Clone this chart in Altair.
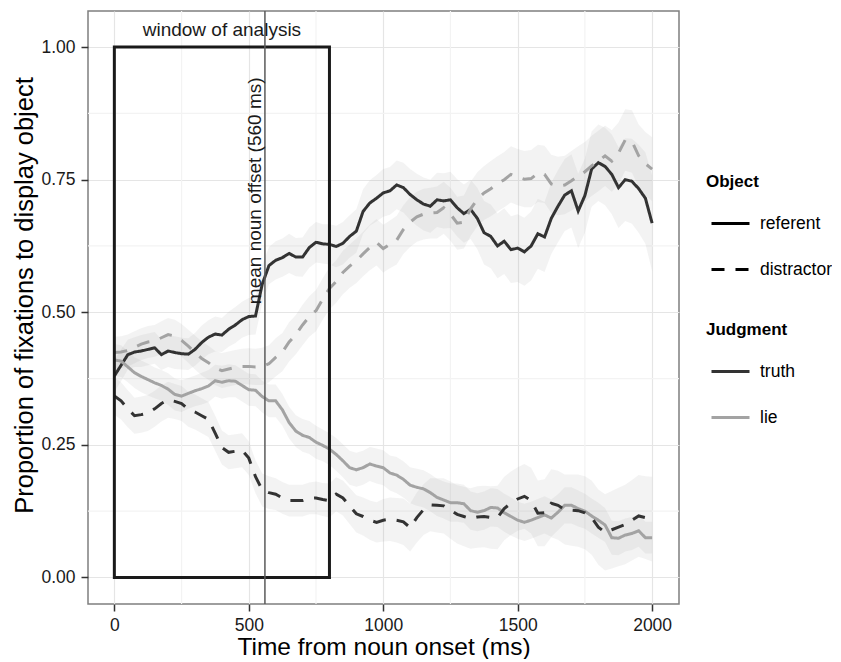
import altair as alt
import pandas as pd

# ---------------- data ----------------
time_ms = list(range(0, 2001, 25))

truth_referent = [
    0.380, 0.400, 0.420, 0.425, 0.427, 0.430, 0.433, 0.420, 0.427, 0.424,
    0.422, 0.421, 0.430, 0.443, 0.453, 0.459, 0.457, 0.468, 0.476, 0.486,
    0.492, 0.493, 0.553, 0.588, 0.598, 0.603, 0.611, 0.604, 0.604, 0.622,
    0.632, 0.629, 0.628, 0.624, 0.630, 0.643, 0.653, 0.690, 0.706, 0.715,
    0.725, 0.729, 0.740, 0.735, 0.722, 0.712, 0.704, 0.700, 0.712, 0.710,
    0.712, 0.697, 0.686, 0.694, 0.677, 0.650, 0.643, 0.625, 0.634, 0.618,
    0.621, 0.614, 0.625, 0.648, 0.642, 0.677, 0.700, 0.721, 0.729, 0.691,
    0.720, 0.770, 0.782, 0.775, 0.760, 0.735, 0.750, 0.747, 0.733, 0.715,
    0.668,
]
lie_referent = [
    0.410, 0.408, 0.397, 0.386, 0.379, 0.373, 0.367, 0.362, 0.355, 0.345,
    0.342, 0.347, 0.352, 0.356, 0.361, 0.371, 0.368, 0.371, 0.370, 0.362,
    0.354, 0.353, 0.341, 0.333, 0.333, 0.316, 0.292, 0.276, 0.268, 0.264,
    0.255, 0.249, 0.242, 0.232, 0.220, 0.207, 0.203, 0.207, 0.214, 0.210,
    0.207, 0.197, 0.193, 0.185, 0.174, 0.170, 0.167, 0.160, 0.151, 0.146,
    0.141, 0.141, 0.139, 0.126, 0.123, 0.126, 0.132, 0.131, 0.122, 0.115,
    0.108, 0.104, 0.108, 0.113, 0.118, 0.112, 0.123, 0.136, 0.136, 0.130,
    0.125, 0.116, 0.108, 0.099, 0.075, 0.074, 0.080, 0.083, 0.088, 0.075,
    0.075,
]
truth_distractor = [
    0.342, 0.333, 0.318, 0.305, 0.307, 0.310, 0.318, 0.328, 0.335, 0.332,
    0.328, 0.317, 0.312, 0.305, 0.298, 0.272, 0.245, 0.236, 0.238, 0.240,
    0.225, 0.190, 0.165, 0.160, 0.157, 0.150, 0.145, 0.145, 0.145, 0.149,
    0.150, 0.147, 0.145, 0.157, 0.150, 0.135, 0.120, 0.115, 0.108, 0.104,
    0.108, 0.110, 0.108, 0.105, 0.094, 0.113, 0.128, 0.137, 0.136, 0.135,
    0.127, 0.119, 0.115, 0.111, 0.114, 0.115, 0.113, 0.113, 0.130, 0.140,
    0.148, 0.153, 0.145, 0.121, 0.122, 0.140, 0.136, 0.128, 0.127, 0.126,
    0.122, 0.113, 0.095, 0.085, 0.090, 0.095, 0.100, 0.108, 0.116, 0.113,
    0.110,
]
lie_distractor = [
    0.424, 0.425, 0.428, 0.434, 0.440, 0.444, 0.446, 0.452, 0.458, 0.455,
    0.447, 0.436, 0.424, 0.413, 0.405, 0.395, 0.390, 0.393, 0.396, 0.398,
    0.398, 0.397, 0.398, 0.403, 0.415, 0.425, 0.444, 0.458, 0.476, 0.492,
    0.503, 0.525, 0.545, 0.558, 0.575, 0.587, 0.597, 0.610, 0.622, 0.632,
    0.620, 0.628, 0.636, 0.656, 0.670, 0.680, 0.685, 0.687, 0.688, 0.697,
    0.685, 0.668, 0.670, 0.695, 0.713, 0.725, 0.733, 0.742, 0.750, 0.760,
    0.755, 0.751, 0.752, 0.762, 0.760, 0.742, 0.738, 0.740, 0.748, 0.757,
    0.765, 0.776, 0.785, 0.795, 0.785, 0.800, 0.825, 0.822, 0.795, 0.780,
    0.770,
]

# half-widths of the grey confidence ribbons
truth_referent_hw = [
    0.030, 0.030, 0.028, 0.028, 0.030, 0.030, 0.030, 0.029, 0.030, 0.031,
    0.030, 0.030, 0.031, 0.032, 0.032, 0.033, 0.032, 0.033, 0.034, 0.034,
    0.035, 0.035, 0.036, 0.035, 0.036, 0.036, 0.037, 0.036, 0.037, 0.038,
    0.038, 0.037, 0.038, 0.039, 0.040, 0.040, 0.041, 0.042, 0.043, 0.044,
    0.045, 0.045, 0.046, 0.047, 0.048, 0.049, 0.050, 0.050, 0.051, 0.052,
    0.053, 0.054, 0.055, 0.056, 0.058, 0.060, 0.060, 0.061, 0.062, 0.063,
    0.064, 0.064, 0.065, 0.066, 0.066, 0.067, 0.068, 0.068, 0.069, 0.070,
    0.070, 0.071, 0.072, 0.073, 0.075, 0.076, 0.078, 0.080, 0.083, 0.086,
    0.090,
]
lie_referent_hw = [
    0.030, 0.030, 0.029, 0.029, 0.030, 0.030, 0.029, 0.029, 0.030, 0.030,
    0.030, 0.029, 0.029, 0.030, 0.030, 0.030, 0.031, 0.031, 0.030, 0.030,
    0.030, 0.030, 0.030, 0.031, 0.031, 0.030, 0.030, 0.030, 0.031, 0.031,
    0.031, 0.030, 0.030, 0.031, 0.031, 0.032, 0.032, 0.032, 0.032, 0.033,
    0.033, 0.033, 0.034, 0.034, 0.034, 0.035, 0.035, 0.035, 0.035, 0.035,
    0.036, 0.036, 0.036, 0.036, 0.036, 0.036, 0.036, 0.036, 0.036, 0.036,
    0.035, 0.035, 0.035, 0.035, 0.035, 0.035, 0.034, 0.034, 0.034, 0.034,
    0.033, 0.033, 0.033, 0.032, 0.032, 0.032, 0.031, 0.031, 0.030, 0.030,
    0.030,
]
truth_distractor_hw = [
    0.035, 0.035, 0.035, 0.034, 0.034, 0.034, 0.034, 0.034, 0.034, 0.033,
    0.033, 0.033, 0.033, 0.033, 0.033, 0.033, 0.032, 0.032, 0.032, 0.032,
    0.032, 0.031, 0.031, 0.031, 0.030, 0.030, 0.030, 0.030, 0.030, 0.030,
    0.031, 0.031, 0.032, 0.032, 0.033, 0.034, 0.035, 0.036, 0.037, 0.038,
    0.040, 0.041, 0.042, 0.044, 0.045, 0.047, 0.048, 0.050, 0.051, 0.052,
    0.054, 0.055, 0.056, 0.057, 0.058, 0.058, 0.059, 0.060, 0.060, 0.060,
    0.060, 0.061, 0.062, 0.062, 0.063, 0.064, 0.065, 0.066, 0.067, 0.068,
    0.069, 0.070, 0.071, 0.072, 0.073, 0.074, 0.075, 0.076, 0.077, 0.078,
    0.080,
]
lie_distractor_hw = [
    0.030, 0.030, 0.030, 0.030, 0.030, 0.030, 0.030, 0.031, 0.031, 0.031,
    0.031, 0.031, 0.032, 0.032, 0.032, 0.032, 0.033, 0.033, 0.033, 0.033,
    0.034, 0.034, 0.035, 0.035, 0.036, 0.036, 0.037, 0.037, 0.038, 0.038,
    0.039, 0.039, 0.040, 0.040, 0.041, 0.041, 0.042, 0.042, 0.043, 0.044,
    0.045, 0.045, 0.046, 0.046, 0.047, 0.047, 0.048, 0.048, 0.049, 0.049,
    0.050, 0.050, 0.050, 0.051, 0.051, 0.051, 0.052, 0.052, 0.052, 0.053,
    0.053, 0.053, 0.054, 0.054, 0.054, 0.055, 0.055, 0.055, 0.056, 0.056,
    0.056, 0.057, 0.057, 0.057, 0.058, 0.058, 0.058, 0.059, 0.059, 0.060,
    0.060,
]

object_levels = ["referent", "distractor"]
judgment_levels = ["truth", "lie"]

x_ticks = [0, 500, 1000, 1500, 2000]
y_ticks = [0.0, 0.25, 0.5, 0.75, 1.0]
minor_x = [250, 750, 1250, 1750]
minor_y = [0.125, 0.375, 0.625, 0.875]

window_start, window_end = 0, 800
noun_offset = 560

# ---------------- build tables ----------------
series = [
    ("referent", "truth", truth_referent, truth_referent_hw),
    ("referent", "lie", lie_referent, lie_referent_hw),
    ("distractor", "truth", truth_distractor, truth_distractor_hw),
    ("distractor", "lie", lie_distractor, lie_distractor_hw),
]
rows = []
for obj, jud, vals, hws in series:
    for t, v, h in zip(time_ms, vals, hws):
        rows.append({"time": t, "Object": obj, "Judgment": jud, "prop": v,
                     "lo": v - h, "hi": v + h, "key": obj + "-" + jud})
df = pd.DataFrame(rows)

FONT = "Liberation Sans"
xscale = alt.Scale(domain=[-98, 2100], nice=False, zero=False)
yscale = alt.Scale(domain=[-0.05, 1.068], nice=False, zero=False)

xaxis = alt.Axis(values=x_ticks, format="d", title="Time from noun onset (ms)",
                 titlePadding=2, labelPadding=5, titleFontSize=24.5)
yaxis = alt.Axis(values=y_ticks, format=".2f",
                 title="Proportion of fixations to display object", titlePadding=3,
                 titleFontSize=25.5, titleY=284)

minor_gx = alt.Chart(pd.DataFrame({"t": minor_x})).mark_rule(
    color="#f3f3f3", strokeWidth=1.2
).encode(x=alt.X("t:Q", scale=xscale, axis=xaxis))
minor_gy = alt.Chart(pd.DataFrame({"p": minor_y})).mark_rule(
    color="#f3f3f3", strokeWidth=1.2
).encode(y=alt.Y("p:Q", scale=yscale, axis=yaxis))

ribbons = alt.Chart(df).mark_area(color="#9a9a9a", opacity=0.12).encode(
    x=alt.X("time:Q", scale=xscale, axis=xaxis),
    y=alt.Y("lo:Q", scale=yscale, axis=yaxis),
    y2="hi:Q",
    detail="key:N",
)

lines = alt.Chart(df).mark_line(strokeWidth=3, strokeCap="butt").encode(
    x=alt.X("time:Q", scale=xscale, axis=xaxis),
    y=alt.Y("prop:Q", scale=yscale, axis=yaxis),
    color=alt.Color(
        "Judgment:N",
        scale=alt.Scale(domain=judgment_levels, range=["#333333", "#a3a3a3"]),
        sort=judgment_levels,
        legend=alt.Legend(title="Judgment", orient="none", legendX=618, legendY=311,
                          symbolType="stroke", symbolSize=1444, symbolStrokeWidth=3,
                          symbolOffset=4, labelOffset=9, rowPadding=17,
                          titlePadding=12),
    ),
    strokeDash=alt.StrokeDash(
        "Object:N",
        scale=alt.Scale(domain=object_levels, range=[[1, 0], [13, 11]]),
        sort=object_levels,
        legend=alt.Legend(title="Object", orient="none", legendX=618, legendY=163,
                          symbolType="stroke", symbolSize=1444, symbolStrokeWidth=3,
                          symbolStrokeColor="black", symbolOffset=4, labelOffset=9,
                          rowPadding=17, titlePadding=12),
    ),
    detail="key:N",
)

win_df = pd.DataFrame({"x0": [window_start], "x1": [window_end], "y0": [0.0], "y1": [1.0]})
window = alt.Chart(win_df).mark_rect(
    fillOpacity=0, stroke="#1a1a1a", strokeWidth=3
).encode(
    x=alt.X("x0:Q", scale=xscale, axis=xaxis), x2="x1:Q",
    y=alt.Y("y0:Q", scale=yscale, axis=yaxis), y2="y1:Q",
)

rule = alt.Chart(pd.DataFrame({"t": [noun_offset]})).mark_rule(
    color="#5a5a5a", strokeWidth=1.5
).encode(x=alt.X("t:Q", scale=xscale, axis=xaxis))

win_label = alt.Chart(pd.DataFrame({"t": [400], "p": [1.021],
                                    "label": ["window of analysis"]})).mark_text(
    font=FONT, fontSize=19, color="#1a1a1a", align="center", baseline="alphabetic"
).encode(x=alt.X("t:Q", scale=xscale, axis=xaxis),
         y=alt.Y("p:Q", scale=yscale, axis=yaxis), text="label:N")

off_label = alt.Chart(pd.DataFrame({"t": [noun_offset], "p": [0.729],
                                    "label": ["mean noun offset (560 ms)"]})).mark_text(
    font=FONT, fontSize=19, color="#1a1a1a", align="center", baseline="bottom",
    angle=270
).encode(x=alt.X("t:Q", scale=xscale, axis=xaxis),
         y=alt.Y("p:Q", scale=yscale, axis=yaxis), text="label:N")

chart = alt.layer(
    minor_gx, minor_gy, ribbons, lines, window, rule, win_label, off_label
).properties(
    width=591, height=593,
    padding={"left": 4, "top": 2, "right": 0, "bottom": 0},
).configure_view(
    stroke="#7f7f7f", strokeWidth=1.5
).configure_axis(
    labelFont=FONT, labelFontSize=17.5, labelColor="#1a1a1a",
    titleFont=FONT, titleFontWeight="normal", titleColor="#000000",
    domain=False, tickColor="#333333", tickSize=7, tickWidth=1.5,
    labelPadding=6, grid=True, gridColor="#e5e5e5", gridWidth=1.2,
).configure_legend(
    labelFont=FONT, labelFontSize=17.5, labelColor="#000000",
    titleFont=FONT, titleFontSize=17, titleFontWeight="bold", titleColor="#000000",
    padding=0,
)

chart.save("out.html", embed_options={"renderer": "svg", "actions": False})
